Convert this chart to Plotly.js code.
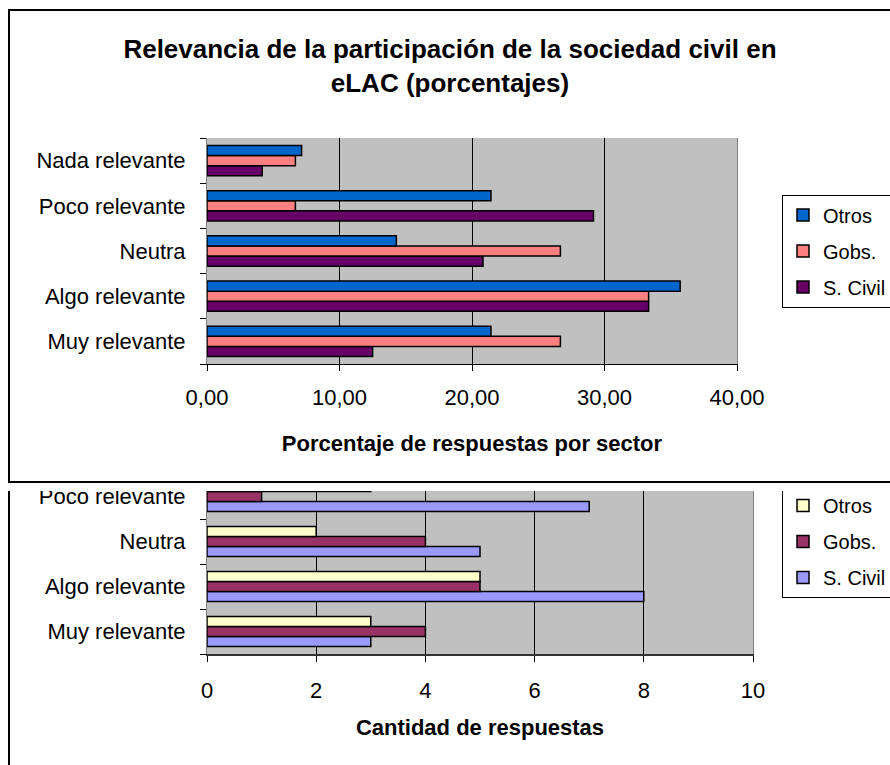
<!DOCTYPE html>
<html><head><meta charset="utf-8">
<script src="https://cdn.plot.ly/plotly-3.0.1.min.js"></script>
<style>
html,body{margin:0;padding:0;width:890px;height:765px;overflow:hidden;background:#fff;}
#bottom{position:absolute;left:0;top:0;width:890px;height:765px;z-index:1;}
#bottomframe{position:absolute;left:8px;top:300px;width:900px;height:600px;border:2px solid #000;z-index:2;pointer-events:none;}
#top{position:absolute;left:0;top:0;width:890px;height:491px;z-index:3;}
#topframe{position:absolute;left:8px;top:9px;width:900px;height:470px;border:2px solid #000;z-index:4;pointer-events:none;}
</style>
</head><body>
<div id="bottom"></div><div id="bottomframe"></div>
<div id="top"></div><div id="topframe"></div>
<script>
// Categories, bottom-to-top order on the axis
var categories = ['Muy relevante','Algo relevante','Neutra','Poco relevante','Nada relevante'];
var seriesNames = ['Otros','Gobs.','S. Civil'];

// Top chart: percentage of answers per sector
var pctOtros  = [21.43, 35.71, 14.29, 21.43, 7.14];
var pctGobs   = [26.67, 33.33, 26.67, 6.67, 6.67];
var pctCivil  = [12.50, 33.33, 20.83, 29.17, 4.17];

// Bottom chart: number of answers
var cntOtros  = [3, 5, 2, 3, 1];
var cntGobs   = [4, 5, 4, 1, 1];
var cntCivil  = [3, 8, 5, 7, 1];

var topTitle = 'Relevancia de la participación de la sociedad civil en<br>eLAC (porcentajes)';
var topXTitle = 'Porcentaje de respuestas por sector';
var bottomXTitle = 'Cantidad de respuestas';

var FONT = 'Liberation Sans, Arial, sans-serif';

function bar(name, x, color, rank){
  return {type:'bar', orientation:'h', name:name, y:categories, x:x, legendgroup:'g'+rank, legendrank:rank,
    marker:{color:color, line:{color:'#000', width:1.5}}, hoverinfo:'x+name'};
}

var topData = [
  bar(seriesNames[2], pctCivil, '#660066', 3),
  bar(seriesNames[1], pctGobs, '#FF8080', 2),
  bar(seriesNames[0], pctOtros, '#0066CC', 1)
];
var bottomData = [
  bar(seriesNames[2], cntCivil, '#9999FF', 3),
  bar(seriesNames[1], cntGobs, '#993366', 2),
  bar(seriesNames[0], cntOtros, '#FFFFCC', 1)
];

function yaxis(){
  return {type:'category', categoryorder:'array', categoryarray:categories,
    tickson:'boundaries', ticks:'outside', ticklen:6, tickcolor:'#000',
    showgrid:false, showline:true, linecolor:'#808080', mirror:true,
    ticklabelstandoff:16, tickfont:{size:22, color:'#000'}, fixedrange:true};
}
function legend(x, y, yanchor){
  return {x:x, xanchor:'left', y:y, yanchor:yanchor, traceorder:'grouped', tracegroupgap:7,
    bordercolor:'#000', borderwidth:1, bgcolor:'#fff', font:{size:20, color:'#000'}, itemwidth:30, entrywidth:100};
}

var topLayout = {
  width:890, height:491, separators:',.',
  margin:{l:207, r:153, t:138, b:127, pad:0, autoexpand:false},
  paper_bgcolor:'#fff', plot_bgcolor:'#C0C0C0',
  font:{family:FONT, color:'#000'},
  title:{text:topTitle, font:{size:26, weight:'bold', color:'#000'}, xref:'container', x:0.5056, xanchor:'center', yref:'container', y:1-58/491, yanchor:'middle'},
  bargap:0.33, bargroupgap:0,
  xaxis:{range:[0,40], dtick:10, tick0:0, tickformat:'.2f', ticks:'outside', ticklen:6, tickcolor:'#000',
    showgrid:true, gridcolor:'#000', gridwidth:1, showline:true, linecolor:'#000', linewidth:1, zeroline:false,
    ticklabelstandoff:8, tickfont:{size:22, color:'#000'},
    title:{text:topXTitle, font:{size:22, weight:'bold', color:'#000'}, standoff:26}, fixedrange:true},
  yaxis:yaxis(),
  showlegend:true,
  legend:legend((782-207)/530, (364-251)/226, 'middle')
};

var bottomLayout = {
  width:890, height:765, separators:',.',
  margin:{l:207, r:137, t:429, b:111, pad:0, autoexpand:false},
  paper_bgcolor:'#fff', plot_bgcolor:'#C0C0C0',
  font:{family:FONT, color:'#000'},
  bargap:0.33, bargroupgap:0,
  xaxis:{range:[0,10], dtick:2, tick0:0, ticks:'outside', ticklen:6, tickcolor:'#000',
    showgrid:true, gridcolor:'#000', gridwidth:1, showline:true, linecolor:'#333', linewidth:2, zeroline:false,
    ticklabelstandoff:10, tickfont:{size:22, color:'#000'},
    title:{text:bottomXTitle, font:{size:22, weight:'bold', color:'#000'}, standoff:17}, fixedrange:true},
  yaxis:yaxis(),
  showlegend:true,
  legend:legend((782-207)/546, (654-598)/225, 'bottom')
};

Plotly.newPlot('bottom', bottomData, bottomLayout, {displayModeBar:false, staticPlot:true});
Plotly.newPlot('top', topData, topLayout, {displayModeBar:false, staticPlot:true});
</script>
</body></html>
